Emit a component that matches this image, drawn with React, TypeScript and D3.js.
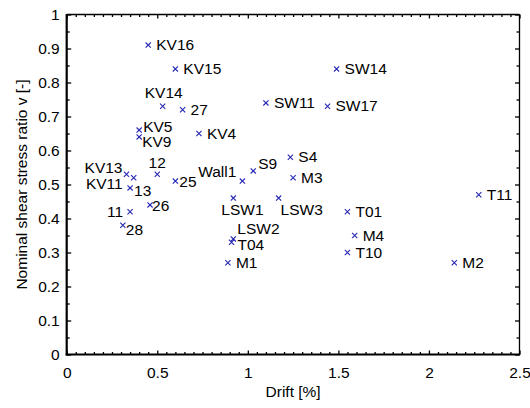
import React, {FC, useEffect, useRef} from 'react';
import * as d3 from 'd3';

// specimen names, drift [%] and nominal shear stress ratio
const names = [
  'KV16', 'KV15', 'KV14', '27', 'KV5', 'KV9', 'KV4', 'KV13', 'KV11', '12', '13',
  '25', '11', '26', '28', 'Wall1', 'S9', 'LSW1', 'LSW2', 'T04', 'M1', 'SW14',
  'SW11', 'SW17', 'S4', 'M3', 'LSW3', 'T01', 'M4', 'T10', 'M2', 'T11',
];
const drift = [
  0.45, 0.6, 0.53, 0.64, 0.4, 0.4, 0.73, 0.33, 0.37, 0.5, 0.35,
  0.6, 0.35, 0.46, 0.31, 0.97, 1.03, 0.92, 0.92, 0.91, 0.89, 1.49,
  1.1, 1.44, 1.235, 1.25, 1.17, 1.55, 1.59, 1.55, 2.14, 2.275,
];
const stress = [
  0.91, 0.84, 0.73, 0.72, 0.66, 0.64, 0.65, 0.53, 0.52, 0.53, 0.49,
  0.51, 0.42, 0.44, 0.38, 0.51, 0.54, 0.46, 0.34, 0.33, 0.27, 0.84,
  0.74, 0.73, 0.58, 0.52, 0.46, 0.42, 0.35, 0.3, 0.27, 0.47,
];
const xTicks = [0, 0.5, 1, 1.5, 2, 2.5];
const yTicks = [0, 0.1, 0.2, 0.3, 0.4, 0.5, 0.6, 0.7, 0.8, 0.9, 1];

// label placement: dx, dy, anchor (default is right of the marker)
const labelPlace: Record<string, [number, number, string]> = {
  KV14: [1, -8, 'middle'],
  '12': [0, -6, 'middle'],
  KV13: [-4, -1, 'end'],
  KV11: [-11, 11, 'end'],
  Wall1: [-6, -4, 'end'],
  LSW1: [-12, 17, 'start'],
  '11': [-7, 5, 'end'],
  '28': [3, 10, 'start'],
  '26': [2, 6, 'start'],
  '13': [4, 8, 'start'],
  '25': [4, 6, 'start'],
  LSW2: [4, -5, 'start'],
  T04: [6, 8, 'start'],
  KV5: [4, 2, 'start'],
  KV9: [3, 10.5, 'start'],
  S9: [5, -2, 'start'],
  LSW3: [2, 17, 'start'],
};

const W = 530;
const H = 408;
const FONT = '"Liberation Sans", Arial, Helvetica, sans-serif';
const FS = '15.5px';

const App: FC = () => {
  const ref = useRef<SVGSVGElement>(null);

  useEffect(() => {
    const margin = {top: 14.5, right: 10.5, bottom: 53.5, left: 66.7};
    const width = W - margin.left - margin.right;
    const height = H - margin.top - margin.bottom;

    const root = d3.select(ref.current);
    root.selectAll('*').remove();
    const svg = root
      .append('g')
      .attr('transform', `translate(${margin.left}, ${margin.top})`);

    const x = d3.scaleLinear().domain([0, 2.5]).range([0, width]);
    const y = d3.scaleLinear().domain([0, 1]).range([height, 0]);

    const xMinor = d3.range(0, 2.5001, 0.05).filter(v => Math.abs(v * 2 - Math.round(v * 2)) > 1e-6);
    const yMinor = d3.range(0, 1.0001, 0.05).filter(v => Math.abs(v * 10 - Math.round(v * 10)) > 1e-6);

    const style = (g: any, labels: boolean) => {
      g.select('.domain').remove();
      g.selectAll('line').attr('stroke', '#000').attr('stroke-width', 1.3);
      if (labels) {
        g.selectAll('text')
          .attr('fill', '#000')
          .style('font-family', FONT)
          .style('font-size', FS);
      } else {
        g.selectAll('text').remove();
      }
    };

    // bottom
    svg
      .append('g')
      .attr('transform', `translate(0, ${height})`)
      .call(d3.axisBottom(x).tickValues(xTicks).tickSizeInner(-4).tickSizeOuter(0).tickPadding(12).tickFormat(d3.format('')))
      .call((g: any) => style(g, true));
    svg
      .append('g')
      .attr('transform', `translate(0, ${height})`)
      .call(d3.axisBottom(x).tickValues(xMinor).tickSizeInner(-2.5).tickSizeOuter(0))
      .call((g: any) => style(g, false));
    // top
    svg
      .append('g')
      .call(d3.axisTop(x).tickValues(xTicks).tickSizeInner(-4).tickSizeOuter(0))
      .call((g: any) => style(g, false));
    svg
      .append('g')
      .call(d3.axisTop(x).tickValues(xMinor).tickSizeInner(-2.5).tickSizeOuter(0))
      .call((g: any) => style(g, false));
    // left
    svg
      .append('g')
      .call(d3.axisLeft(y).tickValues(yTicks).tickSizeInner(-4.5).tickSizeOuter(0).tickPadding(7).tickFormat(d3.format('')))
      .call((g: any) => style(g, true));
    svg
      .append('g')
      .call(d3.axisLeft(y).tickValues(yMinor).tickSizeInner(-3).tickSizeOuter(0))
      .call((g: any) => style(g, false));
    // right
    svg
      .append('g')
      .attr('transform', `translate(${width}, 0)`)
      .call(d3.axisRight(y).tickValues(yTicks).tickSizeInner(-4.5).tickSizeOuter(0))
      .call((g: any) => style(g, false));
    svg
      .append('g')
      .attr('transform', `translate(${width}, 0)`)
      .call(d3.axisRight(y).tickValues(yMinor).tickSizeInner(-3).tickSizeOuter(0))
      .call((g: any) => style(g, false));

    // frame: thin top/right, thick left/bottom
    svg.append('line').attr('x1', 0).attr('x2', width).attr('y1', 0).attr('y2', 0).attr('stroke', '#000').attr('stroke-width', 1.3);
    svg.append('line').attr('x1', width).attr('x2', width).attr('y1', 0).attr('y2', height).attr('stroke', '#000').attr('stroke-width', 1.3);
    svg.append('line').attr('x1', 0).attr('x2', 0).attr('y1', -0.6).attr('y2', height + 1).attr('stroke', '#000').attr('stroke-width', 2.2);
    svg.append('line').attr('x1', -1).attr('x2', width + 0.6).attr('y1', height).attr('y2', height).attr('stroke', '#000').attr('stroke-width', 2.2);

    // axis titles
    svg
      .append('text')
      .attr('x', width / 2)
      .attr('y', height + 42)
      .attr('text-anchor', 'middle')
      .style('font-family', FONT)
      .style('font-size', FS)
      .text('Drift [%]');
    svg
      .append('text')
      .attr('transform', `translate(${-40}, ${height / 2}) rotate(-90)`)
      .attr('text-anchor', 'middle')
      .style('font-family', FONT)
      .style('font-size', FS)
      .text('Nominal shear stress ratio v [-]');

    // markers
    const pts = names.map((n, i) => ({name: n, dx: drift[i], v: stress[i]}));
    svg
      .selectAll('path.mark')
      .data(pts)
      .enter()
      .append('path')
      .attr('class', 'mark')
      .attr('transform', d => `translate(${x(d.dx)}, ${y(d.v)})`)
      .attr('d', 'M-2.6,-2.6L2.6,2.6M-2.6,2.6L2.6,-2.6')
      .attr('stroke', '#2626b4')
      .attr('stroke-width', 1.1)
      .attr('fill', 'none');

    // labels
    svg
      .selectAll('text.lab')
      .data(pts)
      .enter()
      .append('text')
      .attr('class', 'lab')
      .attr('x', d => x(d.dx) + (labelPlace[d.name] ? labelPlace[d.name][0] : 8))
      .attr('y', d => y(d.v) + (labelPlace[d.name] ? labelPlace[d.name][1] : 5))
      .attr('text-anchor', d => (labelPlace[d.name] ? labelPlace[d.name][2] : 'start'))
      .style('font-family', FONT)
      .style('font-size', FS)
      .attr('fill', '#000')
      .text(d => d.name);
  }, []);

  return (
    <svg
      ref={ref}
      width={W}
      height={H}
      style={{position: 'absolute', left: 0, top: 0, background: '#fff'}}
    />
  );
};

export default App;
